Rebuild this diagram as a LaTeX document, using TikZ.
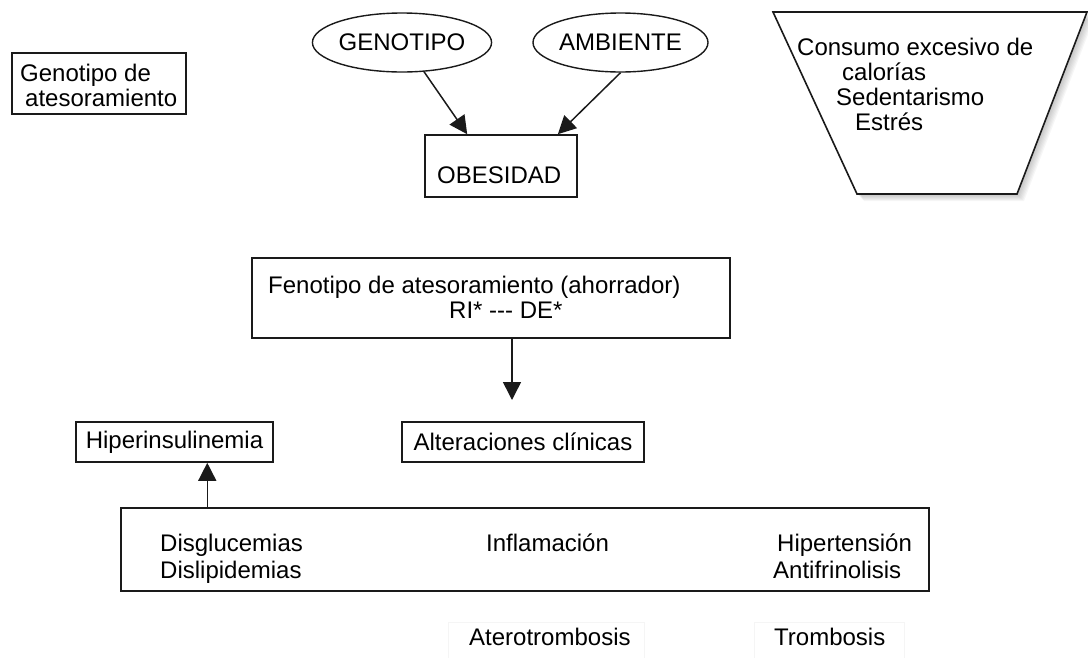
\documentclass[tikz,border=0pt]{standalone}
\usepackage{fontspec}
\setmainfont{Liberation Sans}
\usetikzlibrary{arrows.meta,calc,shapes.geometric}
\definecolor{ink}{HTML}{1A1A1A}
\begin{document}
\begin{tikzpicture}[x=1pt,y=-1pt,
  box/.style={draw=ink,line width=1.6pt,inner sep=0pt,fill=white,font=\fontsize{24}{27}\selectfont},
  oval/.style={draw=ink,line width=1.4pt,ellipse,inner sep=0pt,font=\fontsize{24}{27}\selectfont},
  txt/.style={font=\fontsize{24}{27}\selectfont,inner sep=0pt,anchor=base west,text=black},
  faint/.style={draw=black!4,line width=0.8pt,inner sep=0pt},
  arr/.style={draw=ink,line width=1.5pt,-{Triangle[length=18pt,width=18pt]}}]
\useasboundingbox (0,0) rectangle (1088,657);
% top-left box
\node[box,minimum width=174pt,minimum height=61pt] (gen) at (99,83.5) {};
\node[txt] (gen1) at (20,81) {Genotipo de};
\node[txt] (gen2) at (25,106) {atesoramiento};
% ellipses
\node[oval,minimum width=174pt,minimum height=59pt] (geno) at (402,42.5) {GENOTIPO};
\node[oval,minimum width=175pt,minimum height=59pt] (amb) at (620.5,42.5) {AMBIENTE};
% obesidad
\node[box,minimum width=152pt,minimum height=62pt] (obes) at (501,166) {};
\node[txt] (obest) at (437,183) {OBESIDAD};
\draw[arr] (geno.-53) -- ($(obes.north west)!0.28!(obes.north east)$);
\draw[arr] (amb.south) -- ($(obes.north west)!0.87!(obes.north east)$);
% trapezoid with soft shadow
\foreach \s in {1,...,7}{
  \fill[black,opacity=0.035] ($(773,12)+(\s,\s)$) -- ($(1087,12)+(\s,\s)$) -- ($(1017,194)+(\s,\s)$) -- ($(857,194)+(\s,\s)$) -- cycle;
}
\filldraw[fill=white,draw=ink,line width=1.6pt] (773,12) coordinate (tl) -- (1087,12) coordinate (tr) -- (1017,194) coordinate (br) -- (857,194) coordinate (bl) -- cycle;
\node[txt] (c1) at (797,55) {Consumo excesivo de};
\node[txt] (c2) at (842,80) {calorías};
\node[txt] (c3) at (836,105) {Sedentarismo};
\node[txt] (c4) at (855,130) {Estrés};
% fenotipo
\node[box,minimum width=478pt,minimum height=80pt] (fen) at (491,298) {};
\node[txt] (fen1) at (268,293) {Fenotipo de atesoramiento (ahorrador)};
\node[txt] (fen2) at (449,318) {RI* -\kern0pt-\kern0pt- DE*};
\coordinate (fenend) at (512,400);
\draw[arr] (fenend |- fen.south) -- (fenend);
% middle boxes
\node[box,minimum width=197pt,minimum height=40pt] (hip) at (174.5,442) {Hiperinsulinemia};
\node[box,minimum width=242pt,minimum height=40pt] (alt) at (523,442) {Alteraciones clínicas};
% big box
\node[box,minimum width=808pt,minimum height=83pt] (big) at (525,549.5) {};
\coordinate (hipin) at ($(hip.south west)!0.665!(hip.south east)$);
\draw[arr] (hipin |- big.north) -- (hipin);
\node[txt] (b1) at (160,551) {Disglucemias};
\node[txt] (b2) at (160,578) {Dislipidemias};
\node[txt] (b3) at (486,551) {Inflamación};
\node[txt] (b4) at (777,551) {Hipertensión};
\node[txt] (b5) at (773,578) {Antifrinolisis};
% bottom labels
\node[faint,minimum width=196pt,minimum height=40pt] (atb) at (546,642) {};
\node[faint,minimum width=150pt,minimum height=40pt] (trb) at (829,642) {};
\node[txt] (at) at (469,645) {Aterotrombosis};
\node[txt] (tr) at (774,645) {Trombosis};
\end{tikzpicture}
\end{document}
